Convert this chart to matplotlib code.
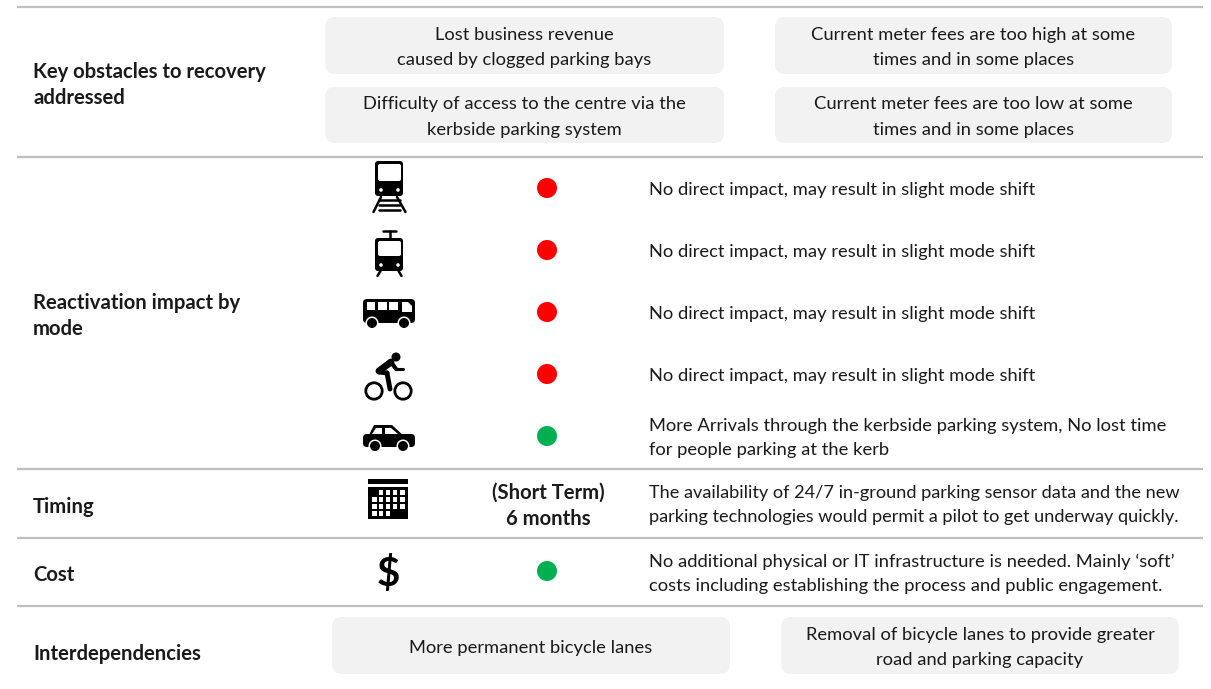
import matplotlib
matplotlib.use('Agg')
import matplotlib.pyplot as plt
from matplotlib.patches import Circle, FancyBboxPatch, Polygon, Rectangle

plt.rcParams['font.family'] = ['Lato', 'DejaVu Sans']

# text content
row_titles = ['Key obstacles to recovery\naddressed', 'Reactivation impact by\nmode', 'Timing', 'Cost', 'Interdependencies']
obstacles = ['Lost business revenue\ncaused by clogged parking bays',
             'Current meter fees are too high at some\ntimes and in some places',
             'Difficulty of access to the centre via the\nkerbside parking system',
             'Current meter fees are too low at some\ntimes and in some places']
interdeps = ['More permanent bicycle lanes',
             'Removal of bicycle lanes to provide greater\nroad and parking capacity']
mode_notes = ['No direct impact, may result in slight mode shift',
              'No direct impact, may result in slight mode shift',
              'No direct impact, may result in slight mode shift',
              'No direct impact, may result in slight mode shift',
              'More Arrivals through the kerbside parking system, No lost time\nfor people parking at the kerb']
mode_status = ['red', 'red', 'red', 'red', 'green']
timing_label = '(Short Term)\n6 months'
timing_note = 'The availability of 24/7 in-ground parking sensor data and the new\nparking technologies would permit a pilot to get underway quickly.'
cost_status = 'green'
cost_note = 'No additional physical or IT infrastructure is needed. Mainly \u2018soft\u2019\ncosts including establishing the process and public engagement.'

status_colors = {'red': '#FF0000', 'green': '#00B050'}
TXT = '#1A1A1A'
BOX = '#F2F2F2'
FS = 13.2
FS_BOLD = 14.6
LS = 1.6

fig = plt.figure(figsize=(12.11, 6.89), dpi=100)
ax = fig.add_axes([0, 0, 1, 1])
ax.set_xlim(0, 1211)
ax.set_ylim(689, 0)
ax.axis('off')

# separators
for y in [7, 157, 469, 538, 606]:
    ax.plot([17, 1203], [y, y], color='#BFBFBF', lw=1.6, solid_capstyle='butt')


def box(x0, x1, y0, y1, label):
    r = 10
    ax.add_patch(FancyBboxPatch((x0 + r, y0 + r), x1 - x0 - 2 * r, y1 - y0 - 2 * r,
                                boxstyle='round,pad=%d,rounding_size=%d' % (r, r), fc=BOX, ec='none'))
    ax.text((x0 + x1) / 2, (y0 + y1) / 2 + 2, label, ha='center', va='center', fontsize=FS,
            color=TXT, linespacing=1.72)


box(325, 724, 17, 74, obstacles[0])
box(775, 1172, 17, 74, obstacles[1])
box(325, 724, 87, 143, obstacles[2])
box(775, 1172, 87, 143, obstacles[3])
box(332, 730, 617, 674, interdeps[0])
box(781, 1179, 617, 674, interdeps[1])

# row titles
for label, y in zip(row_titles, [85, 316, 507, 575, 654]):
    ax.text(33, y, label, ha='left', va='center', fontsize=FS_BOLD, fontweight='bold', color=TXT, linespacing=1.4)

# status dots and notes
for st, note, y in zip(mode_status, mode_notes, [188, 250, 312, 374, 436]):
    ax.add_patch(Circle((547, y), 10, fc=status_colors[st], ec='none'))
    ax.text(649, y + 2, note, ha='left', va='center', fontsize=FS, color=TXT, linespacing=LS)

ax.text(548, 506, timing_label, ha='center', va='center', fontsize=FS_BOLD, fontweight='bold', color=TXT, linespacing=1.4)
ax.text(649, 505, timing_note, ha='left', va='center', fontsize=13.1, color=TXT, linespacing=LS)
ax.add_patch(Circle((547, 571), 10, fc=status_colors[cost_status], ec='none'))
ax.text(649, 574, cost_note, ha='left', va='center', fontsize=FS, color=TXT, linespacing=LS)


# icons, drawn in pixel space
def rect(x0, y0, x1, y1, c='black'):
    ax.add_patch(Rectangle((x0, y0), x1 - x0, y1 - y0, fc=c, ec='none'))


def rbox(x0, y0, x1, y1, r=3, c='black'):
    ax.add_patch(FancyBboxPatch((x0 + r, y0 + r), x1 - x0 - 2 * r, y1 - y0 - 2 * r,
                                boxstyle='round,pad=%g,rounding_size=%g' % (r, r), fc=c, ec='none'))


def seg(x0, y0, x1, y1, w=1.5):
    ax.plot([x0, x1], [y0, y1], color='black', lw=w, solid_capstyle='round')


def dot(x, y, r, c='black'):
    ax.add_patch(Circle((x, y), r, fc=c, ec='none'))


def wheel(x, y):
    dot(x, y, 6.5, 'white')
    dot(x, y, 5)


# train
rbox(375, 161, 403, 196)
rbox(378, 164, 401, 181, 2, 'white')
dot(381, 190, 1.8, 'white')
dot(398, 190, 1.8, 'white')
seg(381, 197, 373.5, 212, 1.8)
seg(397, 197, 405.5, 212, 1.8)
for y in [199.5, 205, 210]:
    seg(379, y, 400, y, 1.8)

# tram
rbox(375, 238, 403, 271)
rbox(378, 241, 401, 256, 2, 'white')
dot(381, 265, 1.8, 'white')
dot(398, 265, 1.8, 'white')
seg(383, 231, 396, 231, 1.8)
seg(389.5, 231, 389.5, 238, 1.8)
seg(381, 270, 377.5, 276, 1.8)
seg(398, 270, 401.5, 276, 1.8)

# bus
rbox(363, 299, 415, 323, 4)
for x0, x1 in [(367, 375), (378, 387), (389, 398)]:
    rect(x0, 302, x1, 310, 'white')
ax.add_patch(Polygon([(402, 302), (408, 302), (412, 306), (412, 312), (402, 312)], fc='white', ec='none'))
wheel(372, 323)
wheel(404, 323)

# cyclist
dot(396, 357, 4.5)
for x in [374, 403]:
    ax.add_patch(Circle((x, 391), 8.2, fc='none', ec='black', lw=2))
seg(379, 371, 391, 362, 5)
seg(391, 362, 396, 369, 3)
seg(396, 369, 403, 369, 2.2)
seg(379, 372, 387, 373, 3.5)
seg(387, 373, 390, 389, 3.5)

# car
rbox(363, 434, 415, 447, 4)
ax.add_patch(Polygon([(368, 437), (374, 425), (392, 425), (405, 437)], fc='black', ec='none'))
ax.add_patch(Polygon([(372, 434), (376, 428), (382, 428), (382, 434)], fc='white', ec='none'))
ax.add_patch(Polygon([(385, 428), (391, 428), (398, 434), (385, 434)], fc='white', ec='none'))
wheel(375, 446)
wheel(403, 446)

# calendar
rect(368, 479, 408, 484)
rect(368, 487, 408, 519)
cols = [(372, 376.5), (378.5, 383), (385.5, 390), (392.5, 397), (400, 404.5)]
rows = [(490, 495), (497, 502), (504, 509), (511, 516)]
for j, (y0, y1) in enumerate(rows):
    for i, (x0, x1) in enumerate(cols):
        if (j == 0 and i < 1) or (j == 3 and i > 2):
            continue
        rect(x0, y0, x1, y1, 'white')

# dollar
ax.text(388, 574, '$', ha='center', va='center', fontsize=29, fontweight='bold', color='black')

fig.savefig('out.png', dpi=100)
